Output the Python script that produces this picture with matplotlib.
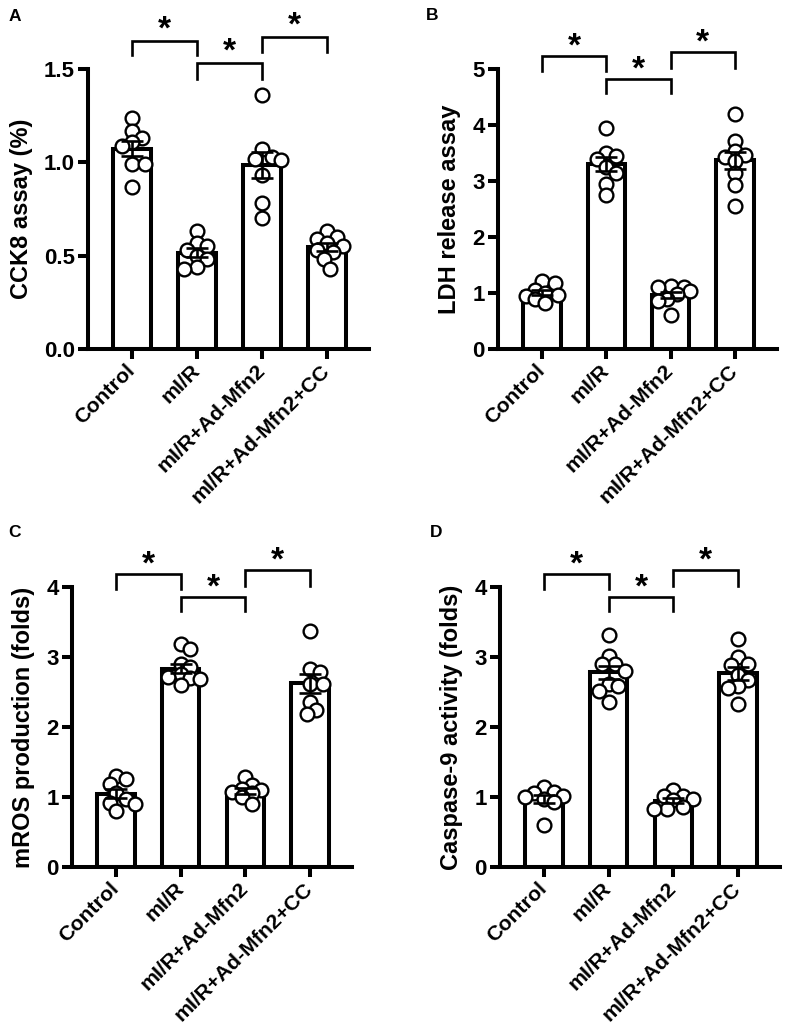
import numpy as np
import matplotlib.pyplot as plt

plt.rcParams["font.family"] = ["Liberation Sans", "DejaVu Sans"]
plt.rcParams["font.weight"] = "bold"
plt.rcParams["axes.labelweight"] = "bold"

groups = ["Control", "mI/R", "mI/R+Ad-Mfn2", "mI/R+Ad-Mfn2+CC"]

# values (one list per group)
cck8 = [
    [1.24, 1.17, 1.13, 1.11, 1.09, 0.99, 0.99, 0.87],
    [0.63, 0.57, 0.55, 0.53, 0.50, 0.48, 0.44, 0.43],
    [1.36, 1.07, 1.03, 1.02, 1.01, 0.93, 0.78, 0.70],
    [0.63, 0.60, 0.59, 0.57, 0.55, 0.53, 0.52, 0.48, 0.43],
]
ldh = [
    [1.21, 1.18, 1.06, 1.00, 0.97, 0.95, 0.90, 0.82],
    [3.95, 3.50, 3.45, 3.40, 3.25, 3.15, 2.95, 2.75],
    [1.13, 1.11, 1.10, 1.03, 0.98, 0.90, 0.85, 0.61],
    [4.20, 3.72, 3.53, 3.47, 3.42, 3.35, 3.15, 2.93, 2.55],
]
mros = [
    [1.30, 1.25, 1.18, 1.05, 0.97, 0.92, 0.90, 0.80],
    [3.19, 3.12, 2.90, 2.85, 2.75, 2.72, 2.70, 2.68, 2.60],
    [1.29, 1.17, 1.12, 1.10, 1.07, 1.05, 1.00, 0.90],
    [3.37, 2.83, 2.79, 2.62, 2.62, 2.36, 2.24, 2.19],
]
casp9 = [
    [1.14, 1.07, 1.05, 1.02, 1.00, 0.97, 0.93, 0.60],
    [3.31, 3.02, 2.90, 2.90, 2.80, 2.62, 2.58, 2.52, 2.36],
    [1.10, 1.02, 1.02, 0.97, 0.95, 0.86, 0.83, 0.83],
    [3.25, 3.00, 2.90, 2.88, 2.74, 2.67, 2.59, 2.55, 2.33],
]

panels = [
    ("A", cck8, "CCK8 assay (%)", 1.5, [0.0, 0.5, 1.0, 1.5], ["0.0", "0.5", "1.0", "1.5"]),
    ("B", ldh, "LDH release assay", 5, [0, 1, 2, 3, 4, 5], None),
    ("C", mros, "mROS production (folds)", 4, [0, 1, 2, 3, 4], None),
    ("D", casp9, "Caspase-9 activity (folds)", 4, [0, 1, 2, 3, 4], None),
]

# bracket levels (axes fraction): top, leg end, star
bracket_levels = {
    "A": [(1.10, 1.05, 1.168), (1.021, 0.964, 1.089), (1.114, 1.061, 1.182)],
    "B": [(1.045, 0.993, 1.11), (0.964, 0.914, 1.027), (1.06, 1.005, 1.124)],
    "C": [(1.045, 0.993, 1.11), (0.964, 0.914, 1.027), (1.06, 1.005, 1.124)],
    "D": [(1.045, 0.993, 1.11), (0.964, 0.914, 1.027), (1.06, 1.005, 1.124)],
}
pairs = [(0, 1), (1, 2), (2, 3)]

axes_pos = {
    "A": [0.1118, 0.6612, 0.357, 0.2718],
    "B": [0.6328, 0.6612, 0.3545, 0.2718],
    "C": [0.0915, 0.1583, 0.3558, 0.2718],
    "D": [0.6353, 0.1583, 0.3558, 0.2718],
}
letter_pos = {"A": (0.011, 0.984), "B": (0.541, 0.985), "C": (0.011, 0.483), "D": (0.546, 0.483)}


def swarm(vals, px_y, px_x=64.6, diam=16.0):
    vals = np.asarray(vals, dtype=float)
    offs = np.zeros(len(vals))
    placed = []
    cands = [0.0]
    for k in range(1, 7):
        cands += [k * 0.05, -k * 0.05]
    for i in np.argsort(-vals):
        best, best_d = 0.0, -1
        for c in cands:
            d = min([np.hypot((c - o) * px_x, (vals[i] - v) * px_y) for o, v in placed] or [1e9])
            if d >= diam * 0.62:
                best = c
                break
            if d > best_d:
                best, best_d = c, d
        offs[i] = best
        placed.append((best, vals[i]))
    return offs


fig = plt.figure(figsize=(7.87, 10.30), dpi=100)

for letter, data, ylabel, ymax, yt, ytl in panels:
    ax = fig.add_axes(axes_pos[letter])
    x = np.arange(len(groups))
    means = [np.mean(g) for g in data]
    sems = [np.std(g, ddof=1) / np.sqrt(len(g)) for g in data]

    ax.bar(x, means, width=0.58, color="white", edgecolor="black", linewidth=2.9, zorder=1)
    px_y = 280.0 / ymax
    for i, g in enumerate(data):
        offs = swarm(g, px_y)
        ax.scatter(x[i] + offs, g, s=98, facecolor="white", edgecolor="black",
                   linewidth=1.7, zorder=3, clip_on=False)
    ax.errorbar(x, means, yerr=sems, fmt="none", ecolor="black", elinewidth=1.9,
                capsize=8, capthick=1.9, zorder=4)

    ax.set_xlim(-0.68, 3.65)
    ax.set_ylim(0, ymax)
    ax.set_yticks(yt)
    if ytl:
        ax.set_yticklabels(ytl)
    ax.set_xticks(x)
    ax.set_xticklabels(groups, rotation=45, ha="right", va="center",
                       rotation_mode="anchor", fontsize=15.3, fontweight="bold")
    ax.tick_params(axis="y", labelsize=16, width=2.9, length=7.5, pad=2)
    ax.tick_params(axis="x", width=2.9, length=7.5, pad=6)
    ax.set_ylabel(ylabel, fontsize=17, fontweight="bold", labelpad=8)
    for sp in ["top", "right"]:
        ax.spines[sp].set_visible(False)
    for sp in ["left", "bottom"]:
        ax.spines[sp].set_linewidth(2.9)

    trans = ax.get_xaxis_transform()
    for (a, b), (top, leg, star) in zip(pairs, bracket_levels[letter]):
        ax.plot([a, a, b, b], [leg, top, top, leg], color="black", lw=1.9,
                transform=trans, clip_on=False, solid_joinstyle="miter")
        ax.text((a + b) / 2, star - 0.03, "*", transform=trans, ha="center", va="center",
                fontsize=24, fontweight="bold")

    fig.text(*letter_pos[letter], letter, fontsize=12.5, fontweight="bold", ha="left", va="center")

fig.savefig("out.png", dpi=100)
